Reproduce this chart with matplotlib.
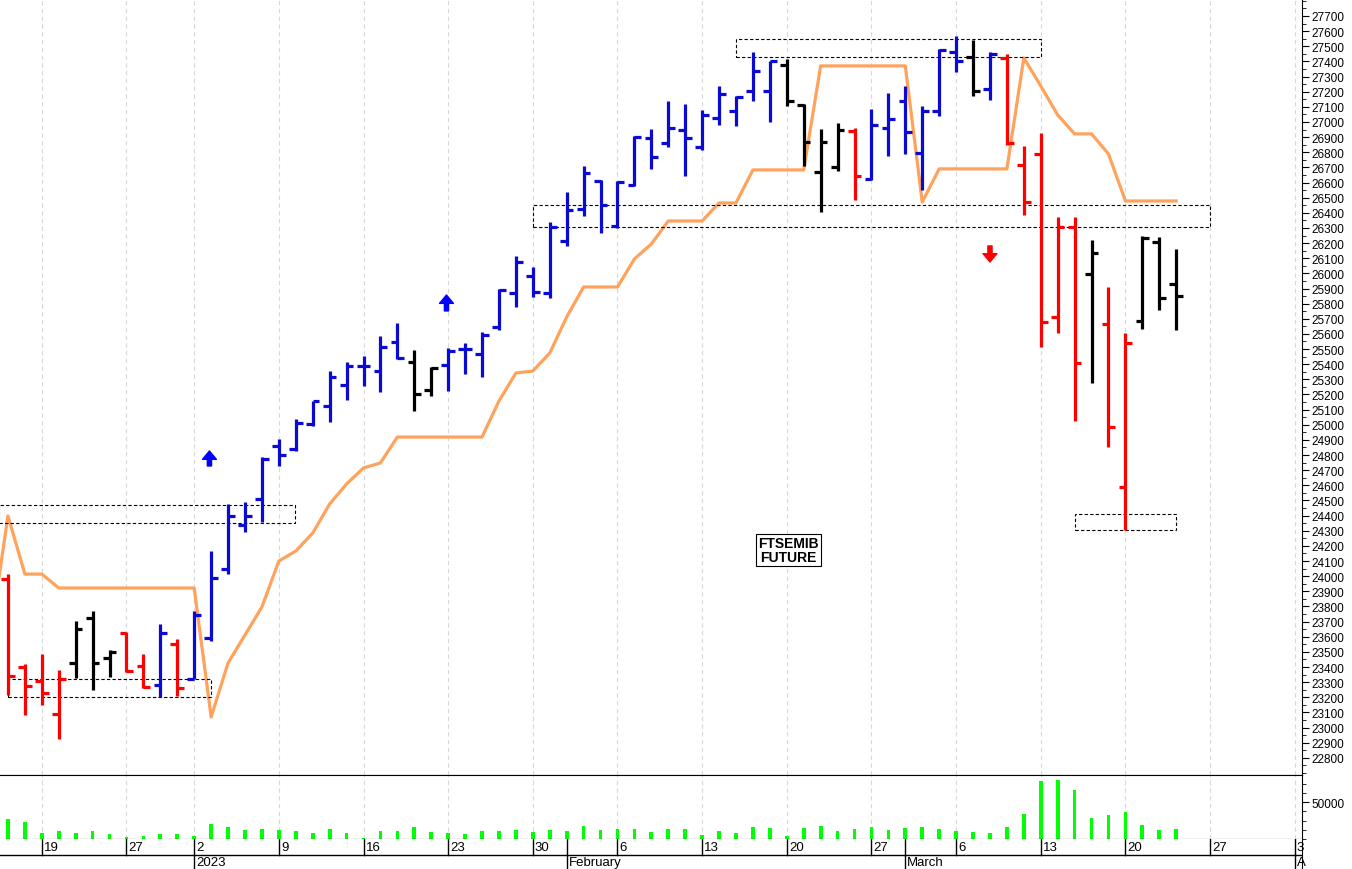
import matplotlib
matplotlib.use("Agg")
import matplotlib.pyplot as plt
from matplotlib.patches import Rectangle
from matplotlib.ticker import MultipleLocator, FixedLocator
import numpy as np

plt.rcParams['font.family'] = ['Liberation Sans', 'DejaVu Sans']

opens = [23981,23400,23308,23090,23427,23724,23460,23625,23407,23281,23552,23321,23592,24047,24338,24510,24860,24840,25005,25124,
         25263,25388,25355,25547,25415,25230,25395,25501,25468,25646,25870,25983,25870,26214,26425,26610,26313,26584,26894,26861,
         26947,26835,27026,27073,27205,27205,27376,27112,26670,26703,26940,26623,26960,27139,26795,27073,27462,27429,27218,27423,
         26716,26789,25712,26306,25996,25666,24589,25685,26207,25930]
highs = [24014,23420,23486,23380,23704,23770,23512,23631,23486,23684,23585,23770,24166,24477,24490,24787,24906,25038,25157,25355,
         25415,25454,25586,25672,25494,25382,25507,25540,25613,25897,26115,26042,26339,26537,26709,26617,26610,26907,26954,27139,
         27119,27079,27238,27172,27462,27403,27416,27119,26954,26993,26960,27086,27191,27238,27106,27482,27568,27541,27462,27449,
         26841,26927,26372,26372,26220,25910,25606,26247,26240,26161]
lows = [23215,23083,23149,22925,23328,23248,23334,23367,23261,23202,23209,23321,23572,24014,24292,24358,24728,24827,24992,25018,
        25164,25256,25217,25434,25091,25190,25223,25335,25316,25626,25778,25844,25837,26181,26379,26267,26300,26577,26689,26835,
        26643,26815,26980,26973,27139,27000,27106,26709,26405,26676,26485,26617,26775,26789,26551,27040,27330,27172,27145,26848,
        26386,25514,25606,25025,25276,24853,24305,25633,25758,25626]
closes = [23341,23275,23228,23321,23651,23427,23499,23374,23268,23625,23261,23744,23988,24398,24398,24774,24800,25012,25157,25316,
          25388,25388,25514,25441,25203,25375,25487,25501,25593,25890,26075,25877,26306,26419,26663,26452,26604,26901,26769,26960,
          26894,27046,27185,27165,27337,27403,27139,26868,26868,26947,26643,26980,27020,26934,27073,27475,27403,27205,27449,26861,
          26471,25679,26306,25408,26135,24985,25540,26234,25837,25851]
bar_colors = (['red']*4 + ['black']*3 + ['red']*2 + ['blue'] + ['red'] + ['blue']*13 + ['black']*2 + ['blue']*20 +
              ['black']*4 + ['red'] + ['blue']*6 + ['black'] + ['blue'] + ['red']*5 + ['black'] + ['red']*2 + ['black']*3)
trail_idx = list(range(-1, 70))
trail = [23631,24398,24014,24014,23922,23922,23922,23922,23922,23922,23922,23922,23922,23070,23427,23612,23797,24100,24166,24285,
         24477,24609,24715,24748,24919,24919,24919,24919,24919,24919,25157,25342,25355,25474,25712,25910,25910,25910,26095,26194,
         26346,26346,26346,26465,26465,26683,26683,26683,26683,27370,27370,27370,27370,27370,27370,26471,26690,26690,26690,26690,
         26690,27423,27238,27046,26921,26921,26789,26478,26478,26478,26478]
volumes = [27000,23000,8000,11000,8000,11000,7000,3000,4000,7000,7000,4000,20000,16000,12000,14000,12000,11000,8000,14000,
           8000,1500,11000,11000,16000,9000,8000,7000,11000,11000,12000,9000,12000,11000,18000,12000,14000,14000,9000,14000,
           14000,5000,11000,8000,16000,15000,4000,15000,18000,11000,14000,16000,12000,15000,16000,14000,11000,9000,8000,16000,
           34000,78000,80000,66000,28000,32000,36000,19000,12000,14000]
price_ticks = list(range(22800, 27701, 100))
week_ticks = [2,7,11,16,21,26,31,36,41,46,51,56,61,66,71,76]
week_labels = ['19','27','2','9','16','23','30','6','13','20','27','6','13','20','27','3']
month_pos = [11,33,53,76]
month_labels = ['2023','February','March','A']
boxes = [(-0.5,16.95,24351,24470),(0,12,23202,23321),(31,71,26306,26452),(43,61,27429,27548),(63,69,24305,24411)]
arrows = [(11.9,24728,24827,'up','blue'),(25.9,25752,25857,'up','blue'),(58,26075,26181,'down','red')]

W, H = 1352, 870
fig = plt.figure(figsize=(W/100, H/100), dpi=100)
xl = (-0.47, 76.43)
axw = 1302/W
ax = fig.add_axes([0, 94/H, axw, 776/H])
axv = fig.add_axes([0, 30/H, axw, 64/H], sharex=ax)
axd = fig.add_axes([0, 0, axw, 30/H], sharex=ax)

x = np.arange(len(opens))
cmap = {'red':'#ff0000','blue':'#0a0ad2','black':'#000000'}
cols = [cmap[c] for c in bar_colors]
ax.vlines(x, lows, highs, colors=cols, lw=2.3)
ax.hlines(opens, x-0.4, x, colors=cols, lw=2.3)
ax.hlines(closes, x, x+0.4, colors=cols, lw=2.3)
ax.plot(trail_idx, trail, color='#ffa25c', lw=2.3, zorder=1)
for (x0,x1,y0,y1) in boxes:
    ax.add_patch(Rectangle((x0,y0), x1-x0, y1-y0, fill=False, ls=(0,(3,2)), lw=0.8, ec='black'))
for (xi,yb,yt,d,c) in arrows:
    if d == 'up':
        ax.annotate('', xy=(xi,yt), xytext=(xi,yb), arrowprops=dict(facecolor=c, edgecolor=c, width=3, headwidth=10, headlength=6))
    else:
        ax.annotate('', xy=(xi,yb), xytext=(xi,yt), arrowprops=dict(facecolor=c, edgecolor=c, width=3, headwidth=10, headlength=6))
ax.text(46.1, 24173, 'FTSEMIB\nFUTURE', ha='center', va='center', fontsize=10, fontweight='bold', linespacing=0.95,
        bbox=dict(boxstyle='square,pad=0.15', fc='white', ec='black', lw=0.8))

ax.set_xlim(*xl)
ax.set_ylim(22687, 27812)
ax.yaxis.tick_right()
ax.yaxis.set_major_locator(FixedLocator(price_ticks))
ax.yaxis.set_minor_locator(MultipleLocator(50))
ax.tick_params(axis='y', which='major', length=5, labelsize=8.5, pad=2)
ax.tick_params(axis='y', which='minor', length=3)
ax.tick_params(axis='x', bottom=False, labelbottom=False)
for a in (ax, axv):
    for g in week_ticks:
        a.axvline(g, color='#d8d8d8', lw=0.8, ls=(0,(4,3)), zorder=0)
for s in ['left','top']:
    ax.spines[s].set_visible(False)

axv.bar(x, volumes, width=0.22, color='#00ff00')
axv.set_ylim(0, 86500)
axv.yaxis.tick_right()
axv.set_yticks([50000])
axv.yaxis.set_minor_locator(MultipleLocator(12500))
axv.tick_params(axis='y', which='major', length=5, labelsize=8.5, pad=2)
axv.tick_params(axis='y', which='minor', length=3)
axv.tick_params(axis='x', bottom=False, labelbottom=False)
axv.spines['left'].set_visible(False)

axd.set_ylim(0, 30)
axd.set_yticks([])
axd.tick_params(axis='x', bottom=False, labelbottom=False)
for s in ['left','top','bottom']:
    axd.spines[s].set_visible(False)
axd.axhline(14, color='black', lw=1)
for p in sorted(set(week_ticks + month_pos)):
    axd.plot([p, p], [14, 30], color='black', lw=1)
for p, l in zip(week_ticks, week_labels):
    axd.text(p+0.12, 22, l, ha='left', va='center', fontsize=9.5)
for p in month_pos:
    axd.plot([p, p], [0, 14], color='black', lw=1)
for p, l in zip(month_pos, month_labels):
    axd.text(p+0.12, 6.5, l, ha='left', va='center', fontsize=9.5)

fig.savefig('out.png', dpi=100)
